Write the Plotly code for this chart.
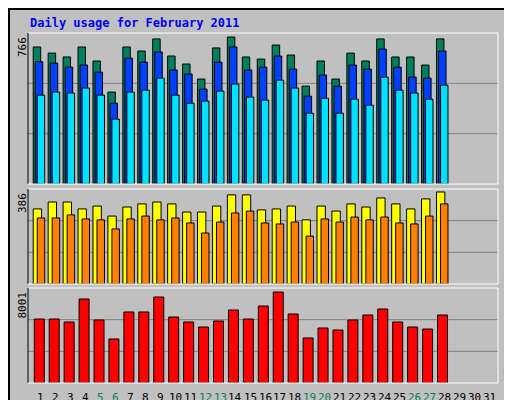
import plotly.graph_objects as go

days = list(range(1, 29))
all_days = list(range(1, 32))
weekend = [5, 6, 12, 13, 19, 20, 26, 27]
hits = [714,682,662,714,641,479,714,693,756,667,625,547,709,766,662,651,724,672,510,641,547,682,641,756,662,662,620,756]
files = [637,630,609,620,583,421,656,635,688,594,573,494,635,714,594,609,667,599,458,568,510,620,599,703,609,557,552,693]
pages = [463,479,474,500,463,338,479,489,552,463,421,432,484,521,453,437,541,500,369,447,369,442,411,557,489,474,442,515]
visits = [315,344,344,315,327,285,323,336,344,336,302,302,327,374,374,311,315,327,269,327,306,336,323,361,336,315,357,386]
sites = [277,277,290,273,269,231,273,285,269,277,256,214,260,298,306,256,252,260,201,273,260,281,269,281,256,252,285,336]
kbytes = [5627,5627,5364,7386,5539,3869,6243,6243,7561,5803,5364,4924,5451,6418,5627,6770,8001,6067,3957,4836,4660,5539,5979,6507,5364,4924,4748,5979]
tick_colors = ["#00805c" if d in weekend else "black" for d in all_days]

W, H = 512, 400
def px(x): return x / W
def py(y): return 1 - y / H

panels = [(25, 176), (181, 276), (280, 375)]
xr = [0.13, 31.6]
xdom = [px(20), px(490)]

fig = go.Figure()
line = dict(color="black", width=1)
def bar(y, color, w, off, xa, ya, name):
    fig.add_trace(go.Bar(x=days, y=y, width=w, offset=off, marker=dict(color=color, line=line),
                         xaxis=xa, yaxis=ya, name=name, showlegend=False))

bar(hits, "#00805c", 0.5, -0.52, "x", "y", "Hits")
bar(files, "#0040ff", 0.5, -0.38, "x", "y", "Files")
bar(pages, "#00e0ff", 0.5, -0.25, "x", "y", "Pages")
bar(visits, "#ffff00", 0.56, -0.52, "x2", "y2", "Visits")
bar(sites, "#ff8000", 0.5, -0.25, "x2", "y2", "Sites")
bar(kbytes, "#ff0000", 0.67, -0.45, "x3", "y3", "KBytes")

ymax = [766 * 151 / 147, 386 * 95 / 92, 8001 * 95 / 91]
layout = dict(width=W, height=H, margin=dict(l=0, r=0, t=0, b=0, autoexpand=False),
              paper_bgcolor="#c0c0c0", plot_bgcolor="#c0c0c0", barmode="overlay",
              font=dict(family="DejaVu Sans Mono", size=11, color="black"))
for i, (top, bot) in enumerate(panels):
    s = "" if i == 0 else str(i + 1)
    layout["xaxis" + s] = dict(domain=xdom, range=xr, anchor="y" + s, showgrid=False, zeroline=False,
                               showticklabels=False, ticks="", automargin=False)
    layout["yaxis" + s] = dict(domain=[py(bot), py(top)], range=[0, ymax[i]], anchor="x" + s,
                               showgrid=False, zeroline=False, showticklabels=False, automargin=False)
fig.update_layout(**layout)

shapes = []
for i, (top, bot) in enumerate(panels):
    for f in (1/3, 2/3):
        y = bot - f * (bot - top)
        shapes.append(dict(type="line", xref="paper", yref="paper", x0=xdom[0], x1=xdom[1], y0=py(y), y1=py(y),
                           line=dict(color="#808080", width=1), layer="below"))
    shapes.append(dict(type="line", xref="paper", yref="paper", x0=xdom[0], x1=xdom[1], y0=py(top), y1=py(top), line=dict(color="white", width=1)))
    shapes.append(dict(type="line", xref="paper", yref="paper", x0=xdom[0], x1=xdom[0], y0=py(top), y1=py(bot), line=dict(color="black", width=1)))
    shapes.append(dict(type="line", xref="paper", yref="paper", x0=xdom[1], x1=xdom[1], y0=py(top), y1=py(bot), line=dict(color="white", width=1)))
    shapes.append(dict(type="line", xref="paper", yref="paper", x0=xdom[0], x1=xdom[1], y0=py(bot), y1=py(bot), line=dict(color="white", width=1)))
shapes.append(dict(type="line", xref="paper", yref="paper", x0=0, x1=1, y0=py(1), y1=py(1), line=dict(color="black", width=2)))
shapes.append(dict(type="line", xref="paper", yref="paper", x0=px(1), x1=px(1), y0=0, y1=1, line=dict(color="black", width=2)))
shapes.append(dict(type="line", xref="paper", yref="paper", x0=0, x1=1, y0=py(398), y1=py(398), line=dict(color="black", width=3)))
shapes.append(dict(type="line", xref="paper", yref="paper", x0=px(510), x1=px(510), y0=0, y1=1, line=dict(color="black", width=3)))
shapes.append(dict(type="line", xref="paper", yref="paper", x0=px(4), x1=px(506), y0=py(394), y1=py(394), line=dict(color="#808080", width=3)))
shapes.append(dict(type="line", xref="paper", yref="paper", x0=px(506), x1=px(506), y0=py(394), y1=py(4), line=dict(color="#808080", width=3)))
fig.update_layout(shapes=shapes)

ann = [
    dict(x=px(20), y=py(15), text="<b>Daily usage for February 2011</b>", xanchor="left", yanchor="middle",
         font=dict(color="#0000ff", size=12)),
    dict(x=px(14), y=py(27), text="766", textangle=-90, xanchor="center", yanchor="top"),
    dict(x=px(14), y=py(183), text="386", textangle=-90, xanchor="center", yanchor="top"),
    dict(x=px(14), y=py(282), text="8001", textangle=-90, xanchor="center", yanchor="top"),
]
# day labels on the bottom x axis
for d, c in zip(all_days, tick_colors):
    ann.append(dict(x=d, y=py(389), xref="x3", text=str(d), xanchor="center", yanchor="middle",
                    font=dict(color=c, size=11)))
# right-side rotated legends, built from bottom up
def right_stack(parts, ybottom):
    y = ybottom
    for txt, col in parts:
        ann.append(dict(x=px(500), y=py(y), text=txt, textangle=-90, xanchor="center", yanchor="bottom",
                        font=dict(color=col, size=11)))
        y -= 7 * len(txt)
right_stack([("Pages", "#00e0ff"), (" / ", "#00e0ff"), ("Files", "#0040ff"), (" / ", "#0040ff"), ("Hits", "#00805c")], 176)
right_stack([("Sites", "#ff8000"), (" / ", "#ff8000"), ("Visits", "#ffff00")], 276)
right_stack([("KBytes", "#ff0000")], 375)
for a in ann:
    a.setdefault("xref", "paper")
    a.update(yref="paper", showarrow=False)
fig.update_layout(annotations=ann)
fig.write_html("out.html")
